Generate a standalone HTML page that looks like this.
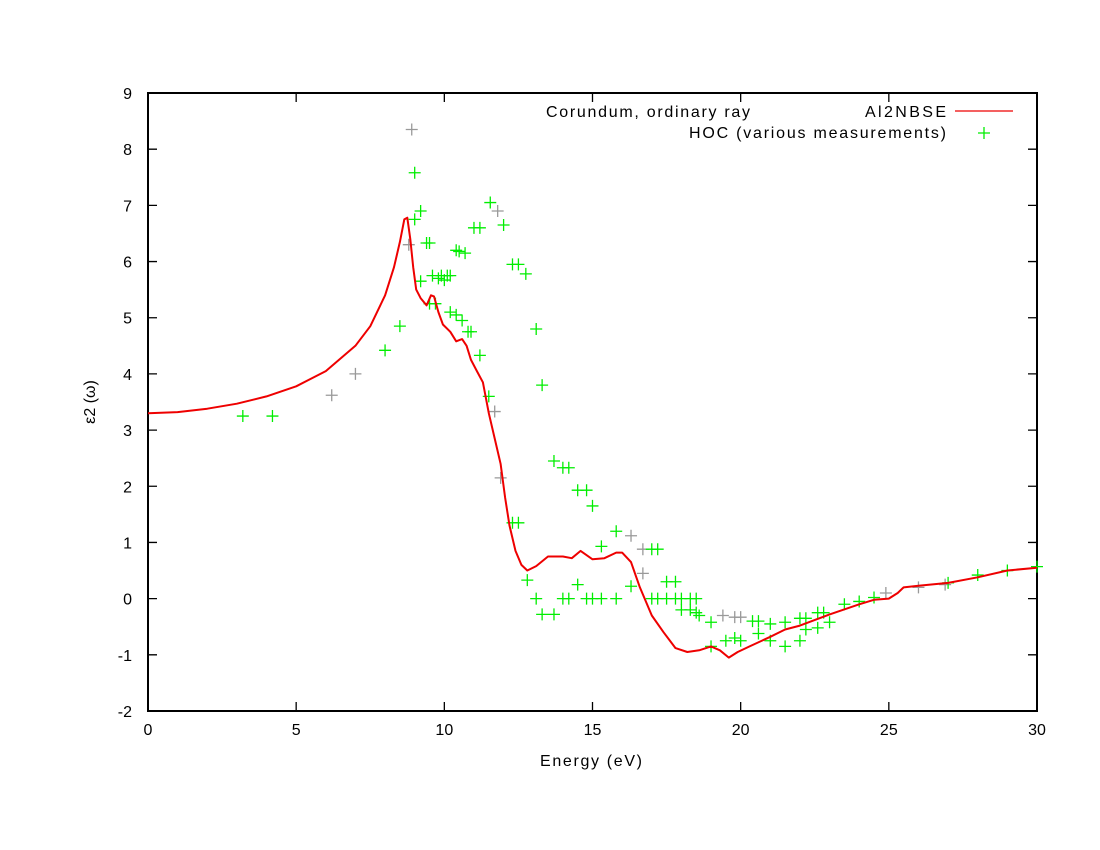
<!DOCTYPE html>
<html><head><meta charset="utf-8"><style>
body{margin:0;background:#fff}
svg{display:block;font-family:"Liberation Sans",sans-serif}
</style></head><body>
<svg id="chart" width="1100" height="850" viewBox="0 0 1100 850" xmlns="http://www.w3.org/2000/svg">
<g id="axes"></g>
<g id="series"></g>
<text x="546" y="117" font-size="16" textLength="204" lengthAdjust="spacing">Corundum, ordinary ray</text>
<g>
<text x="865" y="117" font-size="16" textLength="81" lengthAdjust="spacing">Al2NBSE</text>
<line x1="955" y1="111" x2="1013" y2="111" stroke="#ee0000" stroke-width="1.3"/>
<text x="689" y="138" font-size="16" textLength="257" lengthAdjust="spacing">HOC (various measurements)</text>
<path d="M978 133h12M984 127v12" stroke="#00ee00" stroke-width="1.3"/>
</g>
<text x="540" y="766" font-size="16" textLength="102" lengthAdjust="spacing">Energy (eV)</text>
<text transform="translate(95,402) rotate(-90)" text-anchor="middle" font-size="16">ε2 (ω)</text>
</svg>
<script>
const xTicks=[0,5,10,15,20,25,30];
const yTicks=[-2,-1,0,1,2,3,4,5,6,7,8,9];
const theoryX=[0,1,2,3,4,5,6,7,7.5,8,8.3,8.5,8.65,8.75,8.85,8.95,9.05,9.2,9.4,9.55,9.65,9.8,9.95,10.2,10.4,10.6,10.75,10.9,11.1,11.3,11.5,11.7,11.9,12.05,12.2,12.4,12.6,12.8,13.1,13.5,14,14.3,14.6,15,15.4,15.8,16,16.3,16.6,17,17.4,17.8,18.2,18.6,19,19.3,19.6,19.9,20.3,21,21.5,22,23,24,24.5,25,25.3,25.5,26,27,28,29,30];
const theoryY=[3.3,3.32,3.38,3.47,3.6,3.78,4.05,4.5,4.85,5.4,5.9,6.35,6.75,6.78,6.4,5.9,5.5,5.35,5.22,5.4,5.38,5.1,4.88,4.75,4.58,4.62,4.5,4.25,4.05,3.85,3.3,2.85,2.4,1.8,1.3,0.85,0.6,0.5,0.58,0.75,0.75,0.72,0.85,0.7,0.72,0.82,0.82,0.65,0.2,-0.3,-0.6,-0.88,-0.95,-0.92,-0.85,-0.92,-1.05,-0.95,-0.85,-0.68,-0.55,-0.48,-0.28,-0.1,-0.02,0,0.1,0.2,0.23,0.28,0.38,0.5,0.55];
const hocX=[3.2,4.2,8,8.5,9,9,9.2,9.2,9.4,9.5,9.5,9.6,9.7,9.8,9.9,10,10.1,10.2,10.2,10.4,10.4,10.5,10.6,10.7,10.8,10.9,11,11.2,11.2,11.5,11.55,12,12.3,12.5,12.75,13.1,13.3,12.3,12.5,12.8,13.1,13.3,13.7,13.7,14,14,14.2,14.2,14.5,14.5,14.8,14.8,15,15,15.3,15.3,15.8,15.8,16.3,17,17.2,17,17.2,17.5,17.5,17.8,17.8,18,18,18.3,18.3,18.5,18.5,18.6,19,19,19.5,19.8,20,20.4,20.6,20.6,21,21,21.5,21.5,22,22,22.2,22.2,22.6,22.6,22.8,23,23.5,24,24.5,27,28,29,30];
const hocY=[3.25,3.25,4.42,4.85,7.58,6.75,6.9,5.65,6.33,6.33,5.25,5.75,5.25,5.7,5.75,5.67,5.75,5.75,5.1,6.2,5.05,6.18,4.95,6.15,4.75,4.75,6.6,6.6,4.33,3.6,7.05,6.65,5.95,5.95,5.78,4.8,3.8,1.35,1.35,0.33,0,-0.28,2.45,-0.28,2.33,0,2.33,0,1.93,0.25,1.93,0,1.65,0,0.93,0,1.2,0,0.22,0.88,0.88,0,0,0.3,0,0.3,0,0,-0.2,0,-0.2,0,-0.25,-0.3,-0.42,-0.85,-0.75,-0.7,-0.75,-0.4,-0.4,-0.62,-0.75,-0.45,-0.42,-0.85,-0.35,-0.75,-0.35,-0.55,-0.25,-0.52,-0.25,-0.42,-0.1,-0.05,0.02,0.28,0.42,0.5,0.57];
const greyX=[8.9,8.8,6.2,7,11.8,11.7,11.9,16.3,16.7,16.7,19.4,19.8,20,26,26.9,24.9];
const greyY=[8.35,6.3,3.62,4,6.9,3.33,2.15,1.12,0.88,0.45,-0.3,-0.33,-0.33,0.2,0.25,0.1];

const L=148,R=1037,T=93,B=711;
const xs=v=>L+(v-0)/(30-0)*(R-L);
const ys=v=>B-(v+2)/11*(B-T);
const NS="http://www.w3.org/2000/svg";
function mk(tag,attrs,parent){const e=document.createElementNS(NS,tag);for(const k in attrs)e.setAttribute(k,attrs[k]);parent.appendChild(e);return e;}
const ax=document.getElementById('axes'), sr=document.getElementById('series');
const frame=mk('rect',{x:L,y:T,width:R-L,height:B-T,fill:'none',stroke:'#000','stroke-width':2},ax);


xTicks.forEach(t=>{
  const x=xs(t);
  const tk=mk('path',{d:`M${x} ${B}v-9M${x} ${T}v9`,stroke:'#000','stroke-width':1.3},ax);
  
  
  const lb=mk('text',{x:x,y:B+24,'text-anchor':'middle','font-size':16},ax);
  lb.textContent=t;
  
  
});
yTicks.forEach(t=>{
  const y=ys(t);
  const tk=mk('path',{d:`M${L} ${y}h9M${R} ${y}h-9`,stroke:'#000','stroke-width':1.3},ax);
  
  
  const lb=mk('text',{x:L-16,y:y+6,'text-anchor':'end','font-size':16},ax);
  lb.textContent=t;
  
  
});
function plus(x,y,c,name){
  const p=mk('path',{d:`M${xs(x)-6} ${ys(y)}h12M${xs(x)} ${ys(y)-6}v12`,stroke:c,'stroke-width':1.3},sr);
  
  
}
greyX.forEach((x,i)=>plus(x,greyY[i],'#999','hoc-point-grey'));
hocX.forEach((x,i)=>plus(x,hocY[i],'#00ee00','hoc-point'));
const line=mk('path',{d:theoryX.map((x,i)=>(i?'L':'M')+xs(x).toFixed(1)+' '+ys(theoryY[i]).toFixed(1)).join(''),fill:'none',stroke:'#ee0000','stroke-width':2,'stroke-linejoin':'round'},sr);


</script>
</body></html>
